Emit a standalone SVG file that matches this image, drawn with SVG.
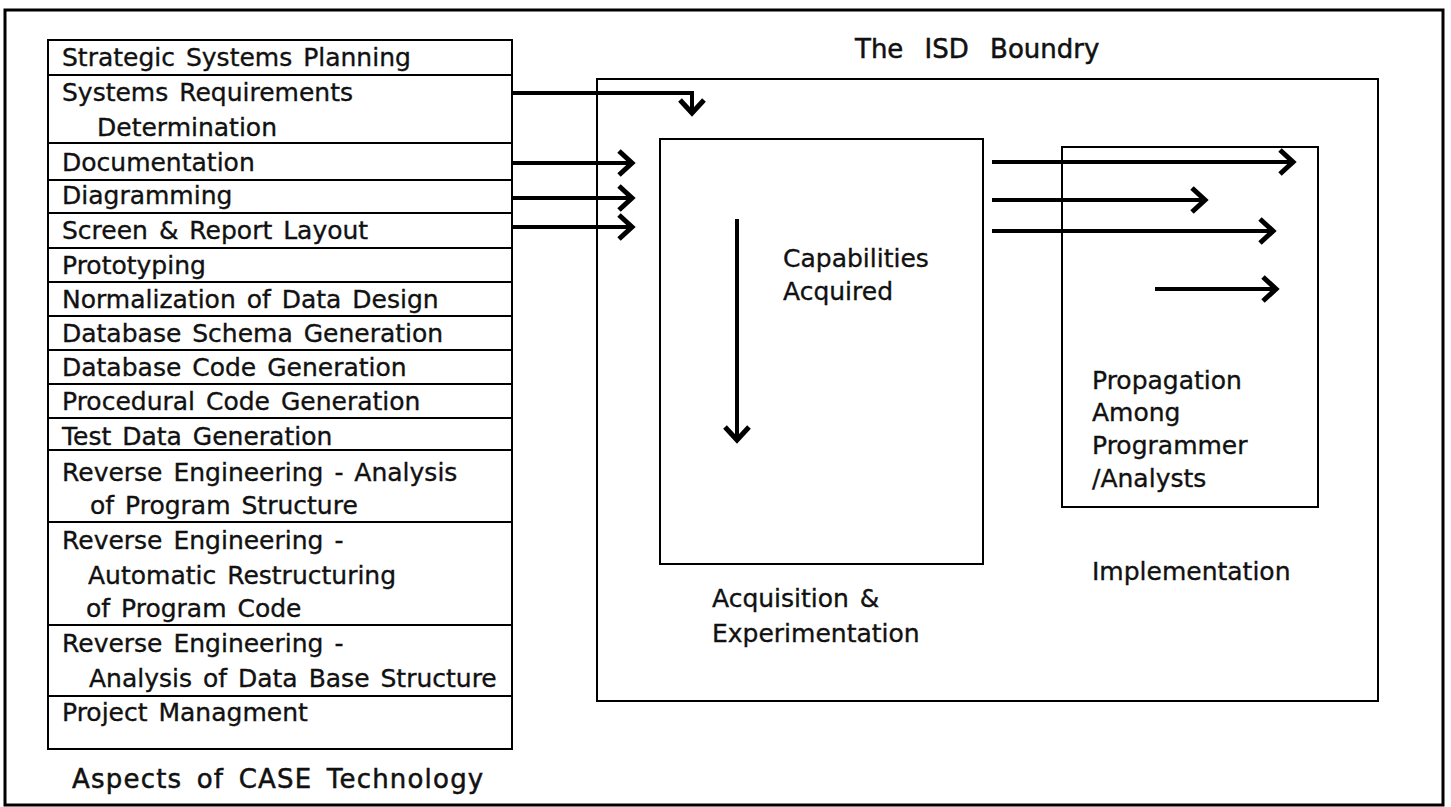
<svg xmlns="http://www.w3.org/2000/svg" width="1451" height="807" viewBox="0 0 1451 807">
  <style>
    .frame { fill: none; stroke: #000; stroke-width: 3; }
    .box { fill: none; stroke: #000; stroke-width: 2; }
    .row { fill: #fff; stroke: #000; stroke-width: 2; }
    .t { font-family: "DejaVu Sans", "Liberation Sans", sans-serif; font-size: 25px; fill: #111; stroke: #111; stroke-width: 0.35; word-spacing: 3px; }
    .h { font-family: "DejaVu Sans", "Liberation Sans", sans-serif; font-size: 26px; fill: #111; stroke: #111; stroke-width: 0.5; }
    .arrow { fill: none; stroke: #000; stroke-width: 4; marker-end: url(#chev); }
  </style>
  <defs>
    <!-- open chevron arrowhead -->
    <marker id="chev" markerUnits="userSpaceOnUse" viewBox="-18 -16 22 32" markerWidth="22" markerHeight="32" refX="0" refY="0" orient="auto" overflow="visible">
      <path d="M-13,-12 L0,0 L-13,12" fill="none" stroke="#000" stroke-width="5" stroke-linejoin="miter"/>
    </marker>
  </defs>

  <rect width="1451" height="807" fill="#fff"/>
  <!-- outer frame -->
  <rect class="frame" x="5" y="10" width="1438" height="795"/>

  <!-- aspects of CASE technology list -->
  <g id="aspects">
    <g id="a-strategic">
      <rect class="row" x="48" y="40" width="464" height="35"/>
      <text class="t" x="62" y="66">Strategic Systems Planning</text>
    </g>
    <g id="a-requirements">
      <rect class="row" x="48" y="75" width="464" height="68"/>
      <text class="t" x="62" y="101">Systems Requirements</text>
      <text class="t" x="97" y="136">Determination</text>
    </g>
    <g id="a-documentation">
      <rect class="row" x="48" y="143" width="464" height="37"/>
      <text class="t" x="62" y="171">Documentation</text>
    </g>
    <g id="a-diagramming">
      <rect class="row" x="48" y="180" width="464" height="33"/>
      <text class="t" x="62" y="204">Diagramming</text>
    </g>
    <g id="a-layout">
      <rect class="row" x="48" y="213" width="464" height="35"/>
      <text class="t" x="62" y="239">Screen &amp; Report Layout</text>
    </g>
    <g id="a-prototyping">
      <rect class="row" x="48" y="248" width="464" height="34"/>
      <text class="t" x="62" y="274">Prototyping</text>
    </g>
    <g id="a-normalization">
      <rect class="row" x="48" y="282" width="464" height="34"/>
      <text class="t" x="62" y="308">Normalization of Data Design</text>
    </g>
    <g id="a-schema">
      <rect class="row" x="48" y="316" width="464" height="34"/>
      <text class="t" x="62" y="342">Database Schema Generation</text>
    </g>
    <g id="a-dbcode">
      <rect class="row" x="48" y="350" width="464" height="34"/>
      <text class="t" x="62" y="376">Database Code Generation</text>
    </g>
    <g id="a-procedural">
      <rect class="row" x="48" y="384" width="464" height="34"/>
      <text class="t" x="62" y="410">Procedural Code Generation</text>
    </g>
    <g id="a-testdata">
      <rect class="row" x="48" y="418" width="464" height="32"/>
      <text class="t" x="62" y="445">Test Data Generation</text>
    </g>
    <g id="a-re-program">
      <rect class="row" x="48" y="450" width="464" height="72"/>
      <text class="t" x="62" y="481" word-spacing="5">Reverse Engineering - Analysis</text>
      <text class="t" x="90" y="514" word-spacing="9">of Program Structure</text>
    </g>
    <g id="a-re-restructure">
      <rect class="row" x="48" y="522" width="464" height="103"/>
      <text class="t" x="62" y="549" word-spacing="5">Reverse Engineering -</text>
      <text class="t" x="88" y="584" word-spacing="14">Automatic Restructuring</text>
      <text class="t" x="86" y="617" word-spacing="3">of Program Code</text>
    </g>
    <g id="a-re-database">
      <rect class="row" x="48" y="625" width="464" height="71"/>
      <text class="t" x="62" y="652" word-spacing="5">Reverse Engineering -</text>
      <text class="t" x="89" y="687">Analysis of Data Base Structure</text>
    </g>
    <g id="a-project">
      <rect class="row" x="48" y="696" width="464" height="53"/>
      <text class="t" x="62" y="721">Project Managment</text>
    </g>
    <text class="h" x="72" y="788" letter-spacing="1.2" word-spacing="5">Aspects of CASE Technology</text>
  </g>

  <!-- ISD boundary -->
  <g id="isd">
    <rect class="box" x="597" y="79" width="781" height="622"/>
    <text class="h" x="855" y="58" word-spacing="13">The ISD Boundry</text>
  </g>

  <!-- acquisition & experimentation stage -->
  <g id="acquisition">
    <rect class="box" x="660" y="139" width="323" height="425"/>
    <text class="t" x="783" y="267">Capabilities</text>
    <text class="t" x="783" y="300">Acquired</text>
    <text class="t" x="712" y="607">Acquisition &amp;</text>
    <text class="t" x="712" y="642">Experimentation</text>
  </g>

  <!-- implementation stage -->
  <g id="implementation">
    <rect class="box" x="1062" y="147" width="256" height="360"/>
    <text class="t" x="1092" y="389">Propagation</text>
    <text class="t" x="1092" y="421">Among</text>
    <text class="t" x="1092" y="454">Programmer</text>
    <text class="t" x="1092" y="487">/Analysts</text>
    <text class="t" x="1092" y="580">Implementation</text>
  </g>

  <!-- connectors -->
  <g id="connectors">
    <path class="arrow" d="M512,93 H692 V113"/>
    <path class="arrow" d="M512,163 H632"/>
    <path class="arrow" d="M512,198 H632"/>
    <path class="arrow" d="M512,227 H632"/>
    <path class="arrow" d="M737,219 V440"/>
    <path class="arrow" d="M992,162 H1293"/>
    <path class="arrow" d="M992,200 H1205"/>
    <path class="arrow" d="M992,231 H1273"/>
    <path class="arrow" d="M1155,289 H1276"/>
  </g>
</svg>
